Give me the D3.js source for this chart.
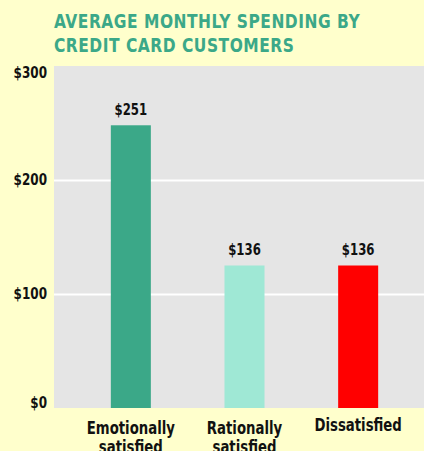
<!DOCTYPE html>
<html>
<head>
<meta charset="utf-8">
<script src="https://cdn.jsdelivr.net/npm/d3@7"></script>
<style>
  body { margin: 0; background: #ffffcc; }
  svg text { font-family: "Liberation Sans Narrow", "DejaVu Sans Condensed", "Roboto", sans-serif; font-weight: bold; }
</style>
</head>
<body>
<div id="chart"></div>
<script>
// data
const categories = ["Emotionally satisfied", "Rationally satisfied", "Dissatisfied"];
const spending = [248, 125, 125];            // bar heights as drawn
const valueLabels = ["$251", "$136", "$136"]; // labels as printed
const yTicks = [0, 100, 200, 300];
const barColors = ["#3ba888", "#9fe8d5", "#ff0000"];

const width = 424, height = 451;
const plotLeft = 54, plotRight = 424, plotTop = 66, plotBottom = 408;

// squeeze text horizontally around its anchor x (the original uses a condensed face)
function squeeze(sel, k, xFn) {
  sel.attr("transform", function(d, i) {
    const x0 = typeof xFn === "function" ? xFn(d, i) : xFn;
    return "translate(" + x0 + ",0) scale(" + k + ",1) translate(" + (-x0) + ",0)";
  });
}

const svg = d3.select("#chart").append("svg")
  .attr("width", width)
  .attr("height", height);

svg.append("rect")
  .attr("width", width).attr("height", height)
  .attr("fill", "#ffffcc");

// title
["AVERAGE MONTHLY SPENDING BY", "CREDIT CARD CUSTOMERS"].forEach((line, i) => {
  svg.append("text")
    .attr("x", 54).attr("y", 28 + i * 24)
    .attr("fill", "#3ba888")
    .style("font-size", "20px")
    .style("letter-spacing", "0.6px")
    .text(line)
    .call(squeeze, 0.86, 54);
});

const y = d3.scaleLinear().domain([0, 300]).range([plotBottom, plotTop]);
const x = d3.scaleBand()
  .domain(categories)
  .range([74, 415])
  .paddingInner(0.648)
  .paddingOuter(0.324);

// plot background
svg.append("rect")
  .attr("x", plotLeft).attr("y", plotTop)
  .attr("width", plotRight - plotLeft)
  .attr("height", plotBottom - plotTop)
  .attr("fill", "#e5e5e5");

// gridlines
svg.append("g")
  .attr("transform", "translate(" + plotLeft + ",0)")
  .call(d3.axisRight(y).tickValues(yTicks.filter(d => d > 0 && d < 300)).tickSize(plotRight - plotLeft).tickFormat(""))
  .call(g => g.select(".domain").remove())
  .call(g => g.selectAll("line").attr("stroke", "#ffffff").attr("stroke-width", 2));

// y labels
svg.selectAll(".ylab")
  .data(yTicks)
  .enter().append("text")
  .attr("class", "ylab")
  .attr("x", 47)
  .attr("y", d => Math.max(plotTop + 7, Math.min(plotBottom - 5, y(d))))
  .attr("dy", "0.35em")
  .attr("text-anchor", "end")
  .attr("fill", "#111")
  .style("font-size", "15px")
  .text(d => "$" + d)
  .call(squeeze, 0.89, 47);

// bars
svg.selectAll(".bar")
  .data(spending)
  .enter().append("rect")
  .attr("class", "bar")
  .attr("x", (d, i) => x(categories[i]))
  .attr("y", d => y(d))
  .attr("width", x.bandwidth())
  .attr("height", d => y(0) - y(d))
  .attr("fill", (d, i) => barColors[i]);

// value labels
const cx = (d, i) => x(categories[i]) + x.bandwidth() / 2;
svg.selectAll(".val")
  .data(spending)
  .enter().append("text")
  .attr("class", "val")
  .attr("x", cx)
  .attr("y", d => y(d) - 10)
  .attr("text-anchor", "middle")
  .attr("fill", "#111")
  .style("font-size", "15px")
  .text((d, i) => valueLabels[i])
  .call(squeeze, 0.87, cx);

// category labels, wrapped
categories.forEach((c, i) => {
  const words = c.split(" ");
  const mid = x(c) + x.bandwidth() / 2;
  const t = svg.append("text")
    .attr("x", mid)
    .attr("y", words.length > 1 ? 434 : 431)
    .attr("text-anchor", "middle")
    .attr("fill", "#111")
    .style("font-size", "18px")
    .call(squeeze, 0.82, mid);
  words.forEach((w, j) => {
    t.append("tspan")
      .attr("x", mid)
      .attr("dy", j == 0 ? 0 : 19)
      .text(w);
  });
});
</script>
</body>
</html>
